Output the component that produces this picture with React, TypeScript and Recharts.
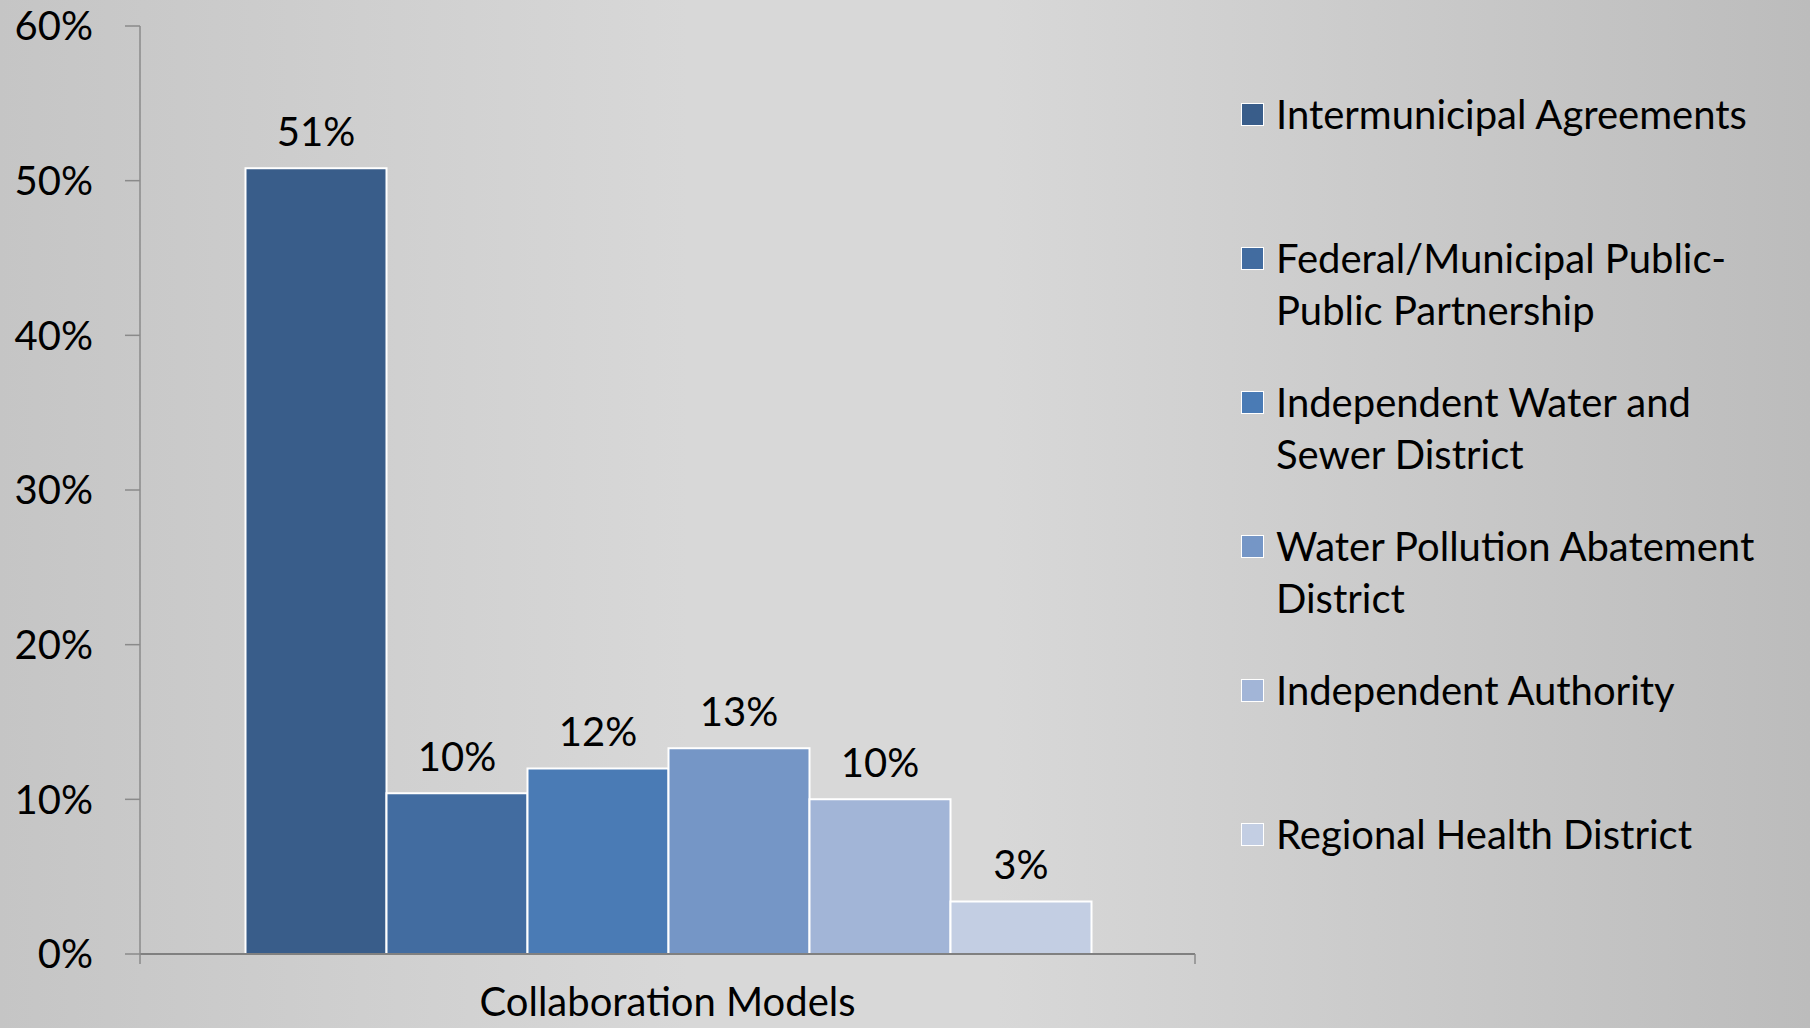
import React from 'react';
import { BarChart, Bar, XAxis, YAxis, Legend, LabelList } from 'recharts';

const categories = ['Collaboration Models'];
const seriesNames = [
  'Intermunicipal Agreements',
  'Federal/Municipal Public-\nPublic Partnership',
  'Independent Water and\nSewer District',
  'Water Pollution Abatement\nDistrict',
  'Independent Authority',
  'Regional Health District',
];
const seriesValues = [0.508, 0.104, 0.12, 0.133, 0.1, 0.034];
const seriesColors = ['#395d8a', '#426ca0', '#4a7bb5', '#7596c6', '#a2b5d7', '#c3cee3'];
const yTicks = [0, 0.1, 0.2, 0.3, 0.4, 0.5, 0.6];

const FONT = 'Lato, "Open Sans", sans-serif';
const AXIS_GRAY = '#8a8a8a';

const data = categories.map((c) => {
  const row: Record<string, string | number> = { category: c };
  seriesValues.forEach((v, i) => {
    row[`s${i}`] = v;
  });
  return row;
});

const pct = (v: number) => `${Math.round(v * 100)}%`;

// excel puts the x ticks on the category edges, not the centre
const EdgeTick = (props: any) => {
  const { x, y, payload } = props;
  const half = payload && payload.offset ? payload.offset : 0;
  return (
    <g>
      <line x1={x - half} x2={x - half} y1={y} y2={y + 10} stroke={AXIS_GRAY} strokeWidth={1.5} />
      <line x1={x + half} x2={x + half} y1={y} y2={y + 10} stroke={AXIS_GRAY} strokeWidth={1.5} />
    </g>
  );
};

const LegendList = (props: any) => {
  // keep series order, recharts sorts the payload by name
  const items = [...(props.payload || [])].sort(
    (a: any, b: any) => seriesNames.indexOf(a.value) - seriesNames.indexOf(b.value)
  );
  return (
    <div style={{ fontFamily: FONT, fontSize: 40, color: '#000' }}>
      {items.map((entry: any, i: number) => (
        <div key={`leg-${i}`} style={{ display: 'flex', alignItems: 'flex-start', height: 144 }}>
          <div
            style={{
              width: 21,
              height: 21,
              marginTop: 15,
              background: entry.color,
              border: '1.5px solid #fff',
              flexShrink: 0,
            }}
          />
          <div style={{ marginLeft: 12, lineHeight: '52px', whiteSpace: 'pre-line' }}>{entry.value}</div>
        </div>
      ))}
    </div>
  );
};

const App: React.FC = () => {
  return (
    <div
      style={{
        position: 'absolute',
        left: 0,
        top: 0,
        width: 1810,
        height: 1028,
        background: 'linear-gradient(to right, #c5c5c5 0%, #d8d8d8 38%, #d8d8d8 55%, #bcbcbc 100%)',
      }}
    >
      <BarChart
        width={1810}
        height={1028}
        data={data}
        margin={{ top: 26, right: 615, bottom: 4, left: 0 }}
        barGap={0}
        barCategoryGap="10%"
        style={{ fontFamily: FONT }}
      >
        <XAxis
          dataKey="category"
          height={70}
          axisLine={{ stroke: '#808080', strokeWidth: 2 }}
          tickLine={false}
          tickSize={0}
          tickMargin={0}
          tick={<EdgeTick />}
          label={{ value: categories[0], position: 'insideBottom', offset: 8, fill: '#000', fontSize: 40, fontFamily: FONT }}
        />
        <YAxis
          width={140}
          domain={[0, 0.6]}
          ticks={yTicks}
          interval={0}
          tickFormatter={pct}
          tickSize={15}
          tickMargin={32}
          axisLine={{ stroke: AXIS_GRAY, strokeWidth: 1.5 }}
          tickLine={{ stroke: AXIS_GRAY, strokeWidth: 1.5 }}
          tick={{ fill: '#000', fontSize: 40, fontFamily: FONT }}
        />
        <Legend
          layout="vertical"
          align="center"
          verticalAlign="middle"
          content={<LegendList />}
          wrapperStyle={{ left: 1241, top: 88, width: 565, height: 870 }}
        />
        {seriesNames.map((name, i) => (
          <Bar
            key={`bar-${i}`}
            dataKey={`s${i}`}
            name={name}
            fill={seriesColors[i]}
            stroke="#ffffff"
            strokeWidth={2}
            isAnimationActive={false}
          >
            <LabelList
              dataKey={`s${i}`}
              position="top"
              offset={22}
              formatter={(v: any) => pct(Number(v))}
              fill="#000"
              fontSize={40}
              fontFamily={FONT}
            />
          </Bar>
        ))}
      </BarChart>
    </div>
  );
};

export default App;
